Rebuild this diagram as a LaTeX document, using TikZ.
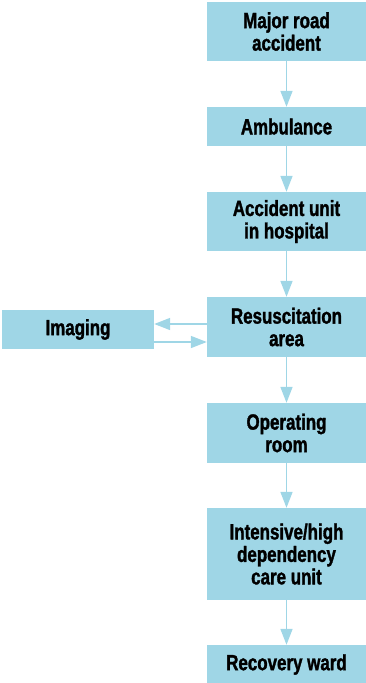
\documentclass[tikz,border=0pt]{standalone}
\usepackage{fontspec}
\setmainfont{Liberation Sans}[FakeStretch=0.77, BoldFeatures={FakeBold=1.4}]
\usetikzlibrary{arrows.meta}
\definecolor{boxblue}{HTML}{9FD6E6}

\begin{document}
\begin{tikzpicture}[x=1pt,y=-1pt,
  box/.style={fill=boxblue, minimum width=159pt, inner sep=0pt, align=center,
    font=\bfseries\fontsize{22}{22.5}\selectfont},
  link/.style={draw=boxblue, line width=1.6pt, -{Triangle[length=16pt,width=12pt]}}]
  \useasboundingbox (0,0) rectangle (366,683);

  \node[box, minimum height=59pt] (accident) at (286.5,31.5) {Major road\\accident};
  \node[box, minimum height=39pt] (ambulance) at (286.5,126.5) {Ambulance};
  \node[box, minimum height=59pt] (unit) at (286.5,221.5) {Accident unit\\in hospital};
  \node[box, minimum height=60pt] (resus) at (286.5,327) {Resuscitation\\area};
  \node[box, minimum width=152pt, minimum height=39pt] (imaging) at (78,329.5) {Imaging};
  \node[box, minimum height=60pt] (theatre) at (286.5,433) {Operating\\room};
  \node[box, minimum height=92pt] (icu) at (286.5,554) {Intensive/high\\dependency\\care unit};
  \node[box, minimum height=39pt] (recovery) at (286.5,664.5) {Recovery ward};

  \draw[link] (accident) -- (ambulance);
  \draw[link] (ambulance) -- (unit);
  \draw[link] (unit) -- (resus);
  \draw[link] (resus) -- (theatre);
  \draw[link] (theatre) -- (icu);
  \draw[link] (icu) -- (recovery);
  \draw[link] ([yshift=3pt]resus.west) -- ([yshift=3pt]resus.west -| imaging.east);
  \draw[link] ([yshift=-12.5pt]imaging.east) -- ([yshift=-12.5pt]imaging.east -| resus.west);
\end{tikzpicture}
\end{document}
